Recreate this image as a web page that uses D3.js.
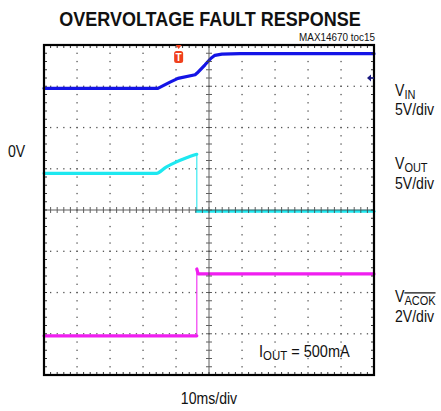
<!DOCTYPE html>
<html><head><meta charset="utf-8">
<script src="https://cdn.jsdelivr.net/npm/d3@7"></script>
<style>
html,body{margin:0;padding:0;background:#fff;}
svg{display:block;}
text{font-family:"Liberation Sans",Arial,sans-serif;fill:#111;}
</style></head>
<body>
<script>
// ---- data (time in ms, amplitude in screen divisions from centre) ----
const timeDomain = [-50, 50];          // 10 ms/div, 10 divisions
const divDomain = [-4, 4];             // 8 vertical divisions
const vinT   = [-50, -15.5, -11.8, -9.4, -4.2, -3.6, -1.2, 0.6, 1.8, 3.9, 9.4, 50];
const vinDiv = [2.95, 2.95, 3.10, 3.19, 3.28, 3.32, 3.52, 3.68, 3.75, 3.78, 3.79, 3.79];
const voutT   = [-50, -15.9, -13.0, -10.0, -7.0, -3.7, -3.7, 50];
const voutDiv = [0.89, 0.89, 1.04, 1.16, 1.26, 1.35, -0.03, -0.03];
const acokT   = [-50, -3.7, -3.7, -3.3, 50];
const acokDiv = [-3.05, -3.05, -1.43, -1.55, -1.55];
const triggerT = -9.2;
const vinRefDiv = 3.2;
const title = "OVERVOLTAGE FAULT RESPONSE";
const docId = "MAX14670 toc15";
const xLabel = "10ms/div";
const zeroLabel = "0V";

const W = 441, H = 411;
const L = 44, R = 374, T = 45, B = 375;

const svg = d3.select("body").append("svg").attr("width", W).attr("height", H);
const x = d3.scaleLinear().domain(timeDomain).range([L, R]);
const y = d3.scaleLinear().domain(divDomain).range([B, T]);

// grid dots
const g = svg.append("g");
const xMaj = d3.range(-50, 51, 10), yMaj = d3.range(-4, 5, 1);
const xMin = d3.range(-50, 50.01, 2), yMin = d3.range(-4, 4.01, 0.2);
xMaj.filter(v => v !== 0 && Math.abs(v) !== 50).forEach(v => {
  yMin.forEach(d => g.append("rect").attr("x", x(v) - 0.6).attr("y", y(d) - 0.6)
    .attr("width", 1.3).attr("height", 1.3).attr("fill", "#555"));
});
yMaj.filter(v => v !== 0 && Math.abs(v) !== 4).forEach(v => {
  xMin.forEach(t => g.append("rect").attr("x", x(t) - 0.6).attr("y", y(v) - 0.6)
    .attr("width", 1.3).attr("height", 1.3).attr("fill", "#555"));
});

// traces: horizontal-ish runs thick, fast vertical edges thin
function drawTrace(ts, vs, color, curve) {
  const pts = ts.map((t, i) => [x(t), y(vs[i])]);
  let run = [pts[0]];
  const line = d3.line().curve(curve);
  const flush = () => {
    if (run.length > 1) svg.append("path").attr("d", line(run)).attr("fill", "none")
      .attr("stroke", color).attr("stroke-width", 3.2).attr("stroke-linejoin", "round").attr("stroke-linecap", "round");
  };
  for (let i = 0; i < pts.length - 1; i++) {
    const vert = Math.abs(pts[i][0] - pts[i + 1][0]) < 0.5;
    if (vert) {
      flush();
      svg.append("line").attr("x1", pts[i][0]).attr("y1", pts[i][1])
        .attr("x2", pts[i + 1][0]).attr("y2", pts[i + 1][1])
        .attr("stroke", color).attr("stroke-width", 1.3).attr("opacity", 0.8);
      run = [pts[i + 1]];
    } else run.push(pts[i + 1]);
  }
  flush();
}
drawTrace(vinT, vinDiv, "#1414e6", d3.curveLinear);
drawTrace(voutT, voutDiv, "#1ee8f0", d3.curveMonotoneX);
drawTrace(acokT, acokDiv, "#f01ef0", d3.curveLinear);

// centre crosshair with ticks
const ch = svg.append("g").attr("stroke", "#444").attr("stroke-width", 1).attr("opacity", 0.85);
ch.append("line").attr("x1", x(0)).attr("x2", x(0)).attr("y1", T).attr("y2", B);
ch.append("line").attr("x1", L).attr("x2", R).attr("y1", y(0)).attr("y2", y(0));
yMin.forEach(d => ch.append("line").attr("x1", x(0) - 3).attr("x2", x(0) + 3).attr("y1", y(d)).attr("y2", y(d)));
xMin.forEach(t => ch.append("line").attr("x1", x(t)).attr("x2", x(t)).attr("y1", y(0) - 3).attr("y2", y(0) + 3));

// frame ticks
const ft = svg.append("g").attr("stroke", "#333").attr("stroke-width", 1);
xMin.forEach(t => {
  ft.append("line").attr("x1", x(t)).attr("x2", x(t)).attr("y1", T).attr("y2", T + 3);
  ft.append("line").attr("x1", x(t)).attr("x2", x(t)).attr("y1", B).attr("y2", B - 3);
});
yMin.forEach(d => {
  ft.append("line").attr("x1", L).attr("x2", L + 3).attr("y1", y(d)).attr("y2", y(d));
  ft.append("line").attr("x1", R).attr("x2", R - 3).attr("y1", y(d)).attr("y2", y(d));
});
svg.append("rect").attr("x", L).attr("y", T).attr("width", R - L).attr("height", B - T)
  .attr("fill", "none").attr("stroke", "#000").attr("stroke-width", 2.2);

// trigger marker
const tx = x(triggerT);
svg.append("path").attr("d", `M${tx - 3},${T} L${tx + 3},${T} L${tx},${T + 4} Z`).attr("fill", "#f0401c");
svg.append("rect").attr("x", tx - 4.5).attr("y", T + 6).attr("width", 9).attr("height", 12).attr("rx", 2.5)
  .attr("fill", "#f0401c");
svg.append("text").attr("x", tx).attr("y", T + 16).attr("text-anchor", "middle")
  .attr("font-size", 10).attr("font-weight", "bold").style("fill", "#fff").text("T");

// reference arrow on right
const ay = y(vinRefDiv);
svg.append("path").attr("d", `M${R - 7},${ay} L${R - 3},${ay - 3.5} L${R - 3},${ay + 3.5} Z`).attr("fill", "#1a1a80");
svg.append("line").attr("x1", R - 4).attr("x2", R).attr("y1", ay).attr("y2", ay).attr("stroke", "#1a1a80").attr("stroke-width", 1.5);

// condensed text helper (narrow face is not installed, so compress horizontally)
function txt(xp, yp, size, sx, anchor) {
  return svg.append("text").attr("transform", `translate(${xp},${yp}) scale(${sx},1)`)
    .attr("font-size", size).attr("text-anchor", anchor || "start");
}
txt(210, 26, 20, 0.9, "middle").attr("font-weight", "bold").text(title);
txt(R + 1, 41, 11, 0.9, "end").text(docId);
txt(209, 404, 16, 0.88, "middle").text(xLabel);
txt(8, 157, 16, 0.88).text(zeroLabel);

function subLabel(xp, yp, main, sub, over) {
  const t = txt(xp, yp, 16, 0.88);
  t.append("tspan").text(main);
  const s = t.append("tspan").attr("font-size", 12.5).attr("dy", 3).text(sub);
  if (over) s.attr("text-decoration", "overline");
  return t;
}
subLabel(395, 96, "V", "IN");
txt(395, 115, 16, 0.88).text("5V/div");
subLabel(395, 169, "V", "OUT");
txt(395, 189, 16, 0.88).text("5V/div");
subLabel(395, 302, "V", "ACOK", true);
txt(395, 322, 16, 0.88).text("2V/div");
const io = txt(259, 357, 16.5, 0.88);
io.append("tspan").text("I");
io.append("tspan").attr("font-size", 13).attr("dy", 3).text("OUT");
io.append("tspan").attr("dy", -3).text(" = 500mA");
</script>
</body></html>
